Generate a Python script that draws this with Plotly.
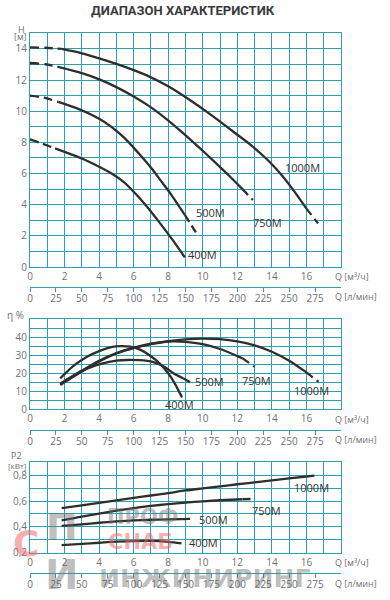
import plotly.graph_objects as go

# ---------------- data ----------------
models = ["400M", "500M", "750M", "1000M"]

# Head curves H [m] vs Q [m3/h]
q_head_400 = [0, 0.7, 1.45, 2.2, 3.0, 3.8, 4.7, 5.4, 6.07, 6.75, 7.42, 8.2, 8.96]
h_400 = [8.2, 7.92, 7.62, 7.31, 6.97, 6.55, 6.02, 5.48, 4.75, 3.9, 2.96, 1.82, 0.62]
q_head_500 = [0, 0.8, 1.64, 2.8, 3.95, 4.75, 5.49, 6.25, 7.03, 7.6, 8.19, 8.96, 9.3, 9.69]
h_500 = [11.0, 10.87, 10.6, 10.15, 9.55, 8.97, 8.26, 7.35, 6.34, 5.5, 4.62, 3.34, 2.75, 2.06]
q_head_750 = [0, 0.9, 1.73, 3.0, 4.05, 5.0, 6.0, 6.94, 7.9, 8.86, 9.8, 10.79, 11.6, 12.3, 12.9]
h_750 = [13.1, 13.02, 12.82, 12.45, 12.03, 11.55, 10.95, 10.3, 9.5, 8.6, 7.66, 6.64, 5.78, 5.0, 4.3]
q_head_1000 = [0, 0.9, 1.83, 3.0, 4.05, 5.0, 6.0, 6.94, 8.0, 9.25, 10.5, 11.75, 12.7, 13.68, 14.45, 15.2, 16.0, 16.67]
h_1000 = [14.1, 14.08, 14.0, 13.72, 13.38, 13.04, 12.64, 12.21, 11.6, 10.72, 9.75, 8.7, 7.9, 6.95, 6.05, 5.0, 3.75, 2.8]
head_solid_from = [1.45, 1.64, 1.73, 1.83]
head_solid_to = [8.96, 8.96, 12.3, 16.0]

# Efficiency curves eta [%] vs Q [m3/h]
q_eff_400 = [1.75, 2.5, 3.3, 4.0, 4.7, 5.2, 5.8, 6.4, 7.0, 7.5, 8.0, 8.4, 8.8]
eff_400 = [17.2, 24, 29.2, 32.3, 34.5, 35.1, 34.8, 33.0, 29.5, 25.5, 20, 14, 6.5]
q_eff_500 = [1.75, 2.5, 3.3, 4.2, 5.0, 5.6, 6.3, 7.1, 7.8, 8.3, 8.86, 9.45]
eff_500 = [14, 18.5, 22.5, 25.5, 27, 27.4, 27.3, 26.4, 23.5, 20, 17.2, 14]
q_eff_750 = [1.75, 3.0, 4.0, 5.0, 6.0, 7.0, 7.9, 9.0, 10.0, 11.0, 12.3, 13.0]
eff_750 = [14.2, 21.5, 27, 31.3, 34.3, 36.5, 37.6, 37.5, 36.2, 33.5, 28.3, 23.7]
q_eff_1000 = [1.75, 3.0, 4.0, 5.0, 6.0, 7.0, 8.0, 9.0, 10.0, 11.0, 12.0, 13.0, 14.0, 15.0, 16.0, 16.7]
eff_1000 = [13.5, 21, 26.5, 31, 34, 36.2, 37.8, 38.9, 39.3, 39.0, 37.8, 35.5, 32, 27, 20.5, 15.3]
eff_solid_to = [8.8, 8.86, 12.3, 16.0]

# Power curves P2 [kW] vs Q [m3/h]
q_pow_400 = [1.83, 3, 4, 5, 6, 7, 8, 8.77]
pow_400 = [0.259, 0.268, 0.277, 0.285, 0.29, 0.291, 0.284, 0.272]
q_pow_500 = [1.83, 3, 4, 5, 6, 7, 8, 8.8, 9.54]
pow_500 = [0.407, 0.42, 0.432, 0.442, 0.45, 0.455, 0.458, 0.46, 0.462]
q_pow_750 = [1.83, 3, 4, 5, 6, 7, 8, 9, 10, 11, 12.3, 13.0]
pow_750 = [0.45, 0.48, 0.503, 0.525, 0.545, 0.562, 0.576, 0.588, 0.598, 0.606, 0.614, 0.617]
q_pow_1000 = [1.83, 3, 4, 5, 6, 7, 8, 9, 10, 11, 12, 13, 14, 15, 16, 16.67]
pow_1000 = [0.545, 0.567, 0.586, 0.605, 0.624, 0.643, 0.662, 0.682, 0.698, 0.714, 0.73, 0.745, 0.76, 0.775, 0.79, 0.8]
pow_solid_to = [8.77, 8.8, 12.3, 16.0]

# Tick labels
q_ticks = list(range(0, 19))
q_ticklabels = [str(v) if (v % 2 == 0 and v <= 16) else "" for v in q_ticks]
lmin_ticks = list(range(0, 300, 25))
h_ticks = list(range(0, 16))
h_ticklabels = [str(v) if v % 2 == 0 and v <= 14 else "" for v in h_ticks]
eff_ticks = list(range(0, 55, 5))
eff_ticklabels = [str(v) if v % 10 == 0 and v <= 40 else "" for v in eff_ticks]
pow_ticks = [0.2, 0.3, 0.4, 0.5, 0.6, 0.7, 0.8, 0.9]
pow_ticklabels = ["0,2", "", "0,4", "", "0,6", "", "0,8", ""]

# ---------------- style ----------------
W, H = 390, 600
TEAL = "#2ba3aa"
CURVE = "#2e2e2e"
TICKC = "#707070"
FONT = "Open Sans, Liberation Sans, sans-serif"


def fx(px):
    return px / W


def fy(py):
    return 1 - py / H


def segments(q, v, s_from, s_to):
    start = [(a, b) for a, b in zip(q, v) if a <= s_from]
    solid = [(a, b) for a, b in zip(q, v) if s_from <= a <= s_to]
    end = [(a, b) for a, b in zip(q, v) if a >= s_to]
    return start, solid, end


fig = go.Figure()


def add_curve(q, v, s_from, s_to, xa, ya):
    start, solid, end = segments(q, v, s_from, s_to)
    for seg, dash in ((start, "9px,5px"), (solid, "solid"), (end, "8px,5px")):
        if len(seg) < 2:
            continue
        fig.add_trace(go.Scatter(
            x=[p[0] for p in seg], y=[p[1] for p in seg], mode="lines",
            line=dict(color=CURVE, width=2.3, dash=dash, shape="spline", smoothing=0.8),
            xaxis=xa, yaxis=ya, showlegend=False, hoverinfo="skip"))


head_q = [q_head_400, q_head_500, q_head_750, q_head_1000]
head_v = [h_400, h_500, h_750, h_1000]
for i in range(4):
    add_curve(head_q[i], head_v[i], head_solid_from[i], head_solid_to[i], "x", "y")

eff_q = [q_eff_400, q_eff_500, q_eff_750, q_eff_1000]
eff_v = [eff_400, eff_500, eff_750, eff_1000]
for i in range(4):
    add_curve(eff_q[i], eff_v[i], eff_q[i][0], eff_solid_to[i], "x2", "y2")

pow_q = [q_pow_400, q_pow_500, q_pow_750, q_pow_1000]
pow_v = [pow_400, pow_500, pow_750, pow_1000]
for i in range(4):
    add_curve(pow_q[i], pow_v[i], pow_q[i][0], pow_solid_to[i], "x3", "y3")

# dummy traces so the l/min axes (own thin subplots) get drawn
for xa, ya in (("x4", "y4"), ("x5", "y5"), ("x6", "y6")):
    fig.add_trace(go.Scatter(x=[0, 300], y=[None, None], xaxis=xa, yaxis=ya,
                             showlegend=False, hoverinfo="skip"))

xdom = [fx(30), fx(341)]
tickfont = dict(family=FONT, size=10, color=TICKC)


def qaxis(anchor):
    return dict(domain=xdom, range=[0, 18], anchor=anchor, tickmode="array",
                tickvals=q_ticks, ticktext=q_ticklabels, showgrid=True,
                gridcolor=TEAL, gridwidth=1, showline=True, linecolor=TEAL,
                linewidth=1, mirror=True, zeroline=False, ticks="",
                tickfont=tickfont, fixedrange=True, automargin=False)


def yaxis(dom, rng, tv, tt, anchor):
    return dict(domain=dom, range=rng, anchor=anchor, tickmode="array",
                tickvals=tv, ticktext=tt, showgrid=True, gridcolor=TEAL,
                gridwidth=1, showline=True, linecolor=TEAL, linewidth=1,
                mirror=True, zeroline=False, ticks="", tickfont=tickfont,
                fixedrange=True, automargin=False)


def lminaxis(anchor):
    return dict(domain=xdom, anchor=anchor, range=[0, 300],
                tickmode="array", tickvals=lmin_ticks, ticks="outside",
                ticklen=4, tickcolor=TEAL, showline=True, linecolor=TEAL,
                linewidth=1.2, showgrid=False, zeroline=False, side="bottom",
                tickfont=tickfont, fixedrange=True, automargin=False,
                ticklabelstandoff=-2)


def thin_y(pos_px, anchor):
    return dict(domain=[fy(pos_px), fy(pos_px - 2)], anchor=anchor, visible=False,
                range=[0, 1], fixedrange=True, showgrid=False, zeroline=False,
                automargin=False)


fig.update_layout(
    width=W, height=H, margin=dict(l=0, r=0, t=0, b=0, autoexpand=False),
    paper_bgcolor="white", plot_bgcolor="white",
    xaxis=qaxis("y"),
    yaxis=yaxis([fy(267), fy(33.4)], [0, 15], h_ticks, h_ticklabels, "x"),
    xaxis2=qaxis("y2"),
    yaxis2=yaxis([fy(409.3), fy(319.3)], [0, 50], eff_ticks, eff_ticklabels, "x2"),
    xaxis3=qaxis("y3"),
    yaxis3=yaxis([fy(552.7), fy(462.3)], [0.2, 0.9], pow_ticks, pow_ticklabels, "x3"),
    xaxis4=lminaxis("y4"), yaxis4=thin_y(287, "x4"),
    xaxis5=lminaxis("y5"), yaxis5=thin_y(430, "x5"),
    xaxis6=lminaxis("y6"), yaxis6=thin_y(573, "x6"),
    showlegend=False,
)

ann = []


def text(x, y, s, size=10, color=TICKC, xanchor="center", family=FONT, xref="paper", yref="paper"):
    ann.append(dict(x=x, y=y, xref=xref, yref=yref, text=s, showarrow=False,
                    xanchor=xanchor, yanchor="middle",
                    font=dict(family=family, size=size, color=color)))


# watermark (drawn first, underneath the other texts)
wm_grey = "rgba(110,110,110,0.45)"
wm_red = "rgba(235,95,95,0.5)"
text(fx(143), fy(517), "<b>ПРОФ</b>", size=21, color=wm_grey, family="DejaVu Sans")
text(fx(140), fy(542), "<b>СНАБ</b>", size=21, color=wm_red, family="DejaVu Sans")
text(fx(204), fy(578), "<b>ИНЖИНИРИНГ</b>", size=25, color=wm_grey, family="DejaVu Sans")
text(fx(62), fy(527), "<b>П</b>", size=38, color=wm_grey, family="DejaVu Sans")
text(fx(26), fy(543), "<b>С</b>", size=36, color=wm_red, family="DejaVu Sans")
text(fx(62), fy(575), "<b>И</b>", size=40, color=wm_grey, family="DejaVu Sans")

# title
text(fx(183), fy(10), "<b>ДИАПАЗОН ХАРАКТЕРИСТИК</b>", size=13, color="#3b3b3b",
     family="Roboto, Liberation Sans Narrow, sans-serif")

# axis captions
text(fx(21), fy(29), "H", size=9)
text(fx(20), fy(37), "[м]", size=9)
text(fx(15), fy(315), "η %", size=10)
text(fx(16), fy(455), "P2", size=9)
text(fx(17), fy(465), "[кВт]", size=8)
for ypx in (276, 419, 562):
    text(fx(333), fy(ypx), "Q [м³/ч]", size=9, xanchor="left")
for ypx in (296, 440, 583):
    text(fx(333), fy(ypx), "Q [л/мин]", size=9, xanchor="left")

# curve labels (data coordinates)
lab = dict(size=11, color="#333333")
head_lab = [(10.0, 0.83), (10.46, 3.53), (13.76, 2.83), (15.78, 6.42)]
eff_lab = [(8.67, 2.9), (10.4, 15.2), (13.12, 15.9), (16.3, 10.2)]
pow_lab = [(10.06, 0.282), (10.64, 0.458), (13.7, 0.527), (16.3, 0.703)]
for i, m in enumerate(models):
    text(head_lab[i][0], head_lab[i][1], m, xref="x", yref="y", **lab)
    text(eff_lab[i][0], eff_lab[i][1], m, xref="x2", yref="y2", **lab)
    text(pow_lab[i][0], pow_lab[i][1], m, xref="x3", yref="y3", **lab)

fig.update_layout(annotations=ann)
fig.write_html("out.html", config={"displayModeBar": False},
               post_script="document.body.style.margin='0';document.body.style.padding='0';")
